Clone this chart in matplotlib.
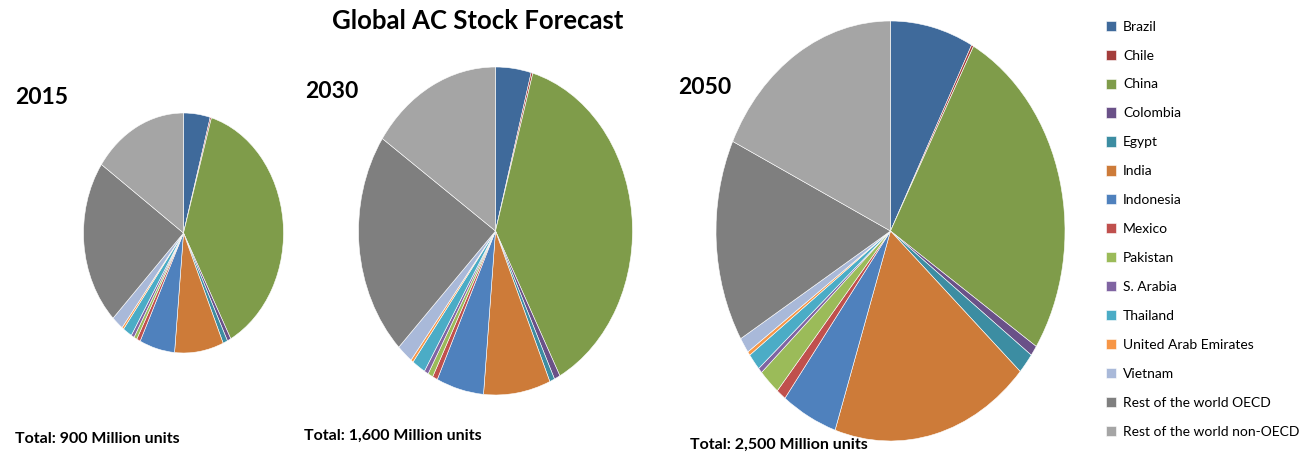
import numpy as np
import matplotlib
matplotlib.use("Agg")
import matplotlib.pyplot as plt

plt.rcParams['font.family'] = ['Lato', 'DejaVu Sans']

regions = ["Brazil", "Chile", "China", "Colombia", "Egypt", "India", "Indonesia",
           "Mexico", "Pakistan", "S. Arabia", "Thailand", "United Arab Emirates",
           "Vietnam", "Rest of the world OECD", "Rest of the world non-OECD"]

colors = ["#3F6A9B", "#A33D3B", "#7F9C4A", "#6A5188", "#3C8DA2", "#CD7B39",
          "#4F81BD", "#C0504D", "#9BBB59", "#8064A2", "#4BACC6", "#F79646",
          "#A9B9D9", "#7F7F7F", "#A5A5A5"]

# shares of stock per region, %
share_2015 = [4.3, 0.2, 37.6, 0.6, 0.75, 7.9, 5.7, 0.6, 0.5, 0.5, 1.5, 0.3, 1.9, 22.2, 15.3]
share_2030 = [4.2, 0.2, 37.9, 0.7, 0.6, 7.9, 5.6, 0.6, 0.6, 0.5, 1.6, 0.3, 1.9, 22.1, 15.5]
share_2050 = [7.7, 0.2, 26.4, 0.8, 1.6, 18.5, 5.2, 0.9, 2.0, 0.4, 1.3, 0.3, 1.2, 15.6, 18.0]

years = ["2015", "2030", "2050"]
totals = ["Total: 900 Million units", "Total: 1,600 Million units", "Total: 2,500 Million units"]

W, H = 1303, 455
fig = plt.figure(figsize=(W / 100, H / 100), dpi=100)

# pie boxes in pixels: left, top, width, height (pies are stretched vertically)
boxes = [(83.5, 113, 200, 240), (358.5, 67, 274, 328), (716, 21, 349, 420)]
year_pos = [(15, 97), (305, 92), (678, 87)]
total_pos = [(15, 439), (304, 436), (690, 445)]

wedges = None
for share, box in zip([share_2015, share_2030, share_2050], boxes):
    l, t, w, h = box
    ax = fig.add_axes([l / W, 1 - (t + h) / H, w / W, h / H])
    wedges, _ = ax.pie(share, colors=colors, startangle=90, counterclock=False,
                       wedgeprops=dict(edgecolor="white", linewidth=0.4))
    ax.set_aspect("auto")
    ax.set_xlim(-1, 1)
    ax.set_ylim(-1, 1)
    ax.axis("off")

for yr, (x, y) in zip(years, year_pos):
    fig.text(x / W, 1 - y / H, yr, fontsize=16.5, fontweight="bold", va="center", ha="left")

for tt, (x, y) in zip(totals, total_pos):
    fig.text(x / W, 1 - y / H, tt, fontsize=11.5, fontweight="bold", va="center", ha="left")

fig.text(478 / W, 1 - 21 / H, "Global AC Stock Forecast", fontsize=18.5, fontweight="bold",
         va="center", ha="center")

fig.legend(wedges, regions, loc="upper left", bbox_to_anchor=(1100 / W, 1 - 15 / H),
           frameon=False, fontsize=10, handlelength=0.75, handleheight=0.75,
           handletextpad=0.5, labelspacing=1.22, borderaxespad=0)

fig.savefig("out.png", dpi=100)
